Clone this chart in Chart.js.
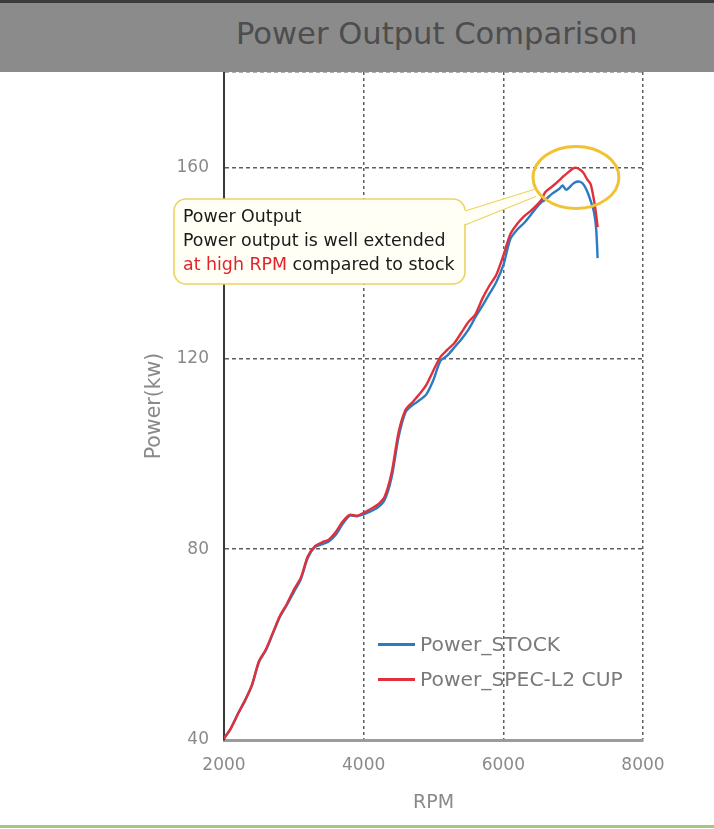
<!DOCTYPE html>
<html>
<head>
<meta charset="utf-8">
<script src="https://cdn.jsdelivr.net/npm/chart.js@4.4.1/dist/chart.umd.min.js"></script>
<style>
html,body{margin:0;padding:0;background:#fff;}
#wrap{position:relative;width:714px;height:829px;overflow:hidden;font-family:"DejaVu Sans",Verdana,sans-serif;}
#c{position:absolute;left:0;top:0;}
#header{position:absolute;left:0;top:0;width:714px;height:72px;background:#8b8b8b;border-top:3px solid #3c3c3c;box-sizing:border-box;}
#title{position:absolute;left:236px;top:13px;font-size:30.6px;color:#4d4d4d;white-space:nowrap;}
#note{position:absolute;left:183px;top:204px;font-size:17.4px;line-height:24px;color:#1a1a1a;white-space:nowrap;}
#note .red{color:#e0242e;}
.leg{position:absolute;left:378px;font-size:20.3px;color:#7a7a7a;white-space:nowrap;line-height:24px;}
.leg .sw{display:inline-block;width:37px;height:3px;vertical-align:middle;margin-right:5px;position:relative;top:-1px;}
#foot{position:absolute;left:0;top:825px;width:714px;height:3px;background:#a9c47f;}
</style>
</head>
<body>
<div id="wrap">
  <canvas id="c" width="714" height="829"></canvas>
  <div id="header"><div id="title">Power Output Comparison</div></div>
  <div id="note">Power Output<br>Power output is well extended<br><span class="red">at high RPM</span> compared to stock</div>
  <div class="leg" style="top:632px"><span class="sw" style="background:#2a7cc2"></span>Power_STOCK</div>
  <div class="leg" style="top:667px"><span class="sw" style="background:#e0303a"></span>Power_SPEC-L2 CUP</div>
  <div id="foot"></div>
</div>
<script>
// ---- data ----
const rpm = [2000,2100,2200,2300,2400,2500,2600,2700,2800,2900,3000,3100,3200,3300,3400,3500,3600,3700,3800,3900,
             4000,4100,4200,4300,4400,4500,4600,4700,4800,4900,5000,5100,5200,5300,5400,5500,5600,5700,5800,5900,
             6000,6100,6200,6300,6400,6500,6550,6600,6700,6800,6850,6900,7000,7050,7100,7150,7200,7250,7300,7330,7350];
const powerStock = [40.3,42.5,45.5,48.2,51.5,56.3,58.8,62.3,65.8,68.3,71.0,73.7,78.2,80.4,81.0,81.6,83.0,85.3,87.0,86.9,
                    87.3,87.9,88.7,90.3,95.0,103.5,108.7,110.2,111.2,112.5,115.5,119.5,120.6,122.3,124.0,126.0,128.6,131.0,133.5,136.0,
                    139.5,145.0,147.0,148.4,150.2,152.0,152.8,153.2,154.5,155.5,156.2,155.3,156.6,157.0,157.0,156.4,155.0,153.0,150.5,147.0,141.0];
const powerSpec = [40.3,42.5,45.5,48.3,51.5,56.5,59.0,62.5,66.0,68.5,71.5,74.0,78.5,80.6,81.4,82.0,83.6,85.8,87.2,87.0,
                   87.6,88.4,89.3,91.0,96.0,104.5,109.2,110.8,112.5,114.5,117.5,120.3,121.8,123.2,125.4,127.6,129.2,132.5,135.2,137.5,
                   141.5,146.0,148.2,149.8,151.0,152.4,153.3,154.8,156.0,157.3,158.0,158.6,159.8,159.9,159.5,158.8,157.5,156.5,153.0,150.0,147.5];
const seriesNames = ['Power_STOCK','Power_SPEC-L2 CUP'];
const xTicks = [2000,4000,6000,8000];
const yTicks = [40,80,120,160];
// highlighted region (data units)
const highlight = {rpm:7040, kw:157.9, rpmHalf:615, kwHalf:6.5};

const FONT = '"DejaVu Sans", Verdana, sans-serif';

const calloutPlugin = {
  id:'callout',
  afterDatasetsDraw(chart){
    const ctx = chart.ctx, xs = chart.scales.x, ys = chart.scales.y;
    const cx = xs.getPixelForValue(highlight.rpm), cy = ys.getPixelForValue(highlight.kw);
    const rx = xs.getPixelForValue(highlight.rpm + highlight.rpmHalf) - cx;
    const ry = cy - ys.getPixelForValue(highlight.kw + highlight.kwHalf);
    ctx.save();
    // box
    const bx=174, by=199, bw=291, bh=85, r=12;
    ctx.beginPath();
    ctx.roundRect(bx,by,bw,bh,r);
    ctx.fillStyle='#fffff6'; ctx.fill();
    ctx.lineWidth=1.6; ctx.strokeStyle='#ecd263'; ctx.stroke();
    // wedge
    const ax = cx - rx*0.98, ay1 = cy + 12, ay2 = cy + 19;
    ctx.beginPath();
    ctx.moveTo(bx+bw-3, by+12);
    ctx.lineTo(ax, ay1);
    ctx.lineTo(ax+2, ay2);
    ctx.lineTo(bx+bw-3, by+26);
    ctx.closePath();
    ctx.fillStyle='#fffff6'; ctx.fill();
    ctx.beginPath();
    ctx.moveTo(bx+bw, by+12); ctx.lineTo(ax, ay1);
    ctx.moveTo(bx+bw, by+26); ctx.lineTo(ax+2, ay2);
    ctx.lineWidth=1.2; ctx.strokeStyle='#ecd263'; ctx.stroke();
    // ellipse
    ctx.beginPath();
    ctx.ellipse(cx, cy, rx, ry, 0, 0, Math.PI*2);
    ctx.lineWidth=3; ctx.strokeStyle='#f1c232'; ctx.stroke();
    ctx.restore();
  }
};

new Chart(document.getElementById('c'), {
  type:'line',
  data:{
    datasets:[
      {label:seriesNames[0], data:rpm.map((r,i)=>({x:r,y:powerStock[i]})), borderColor:'#2a7cc2', borderWidth:2.4, pointRadius:0, tension:0.25, order:2, fill:false},
      {label:seriesNames[1], data:rpm.map((r,i)=>({x:r,y:powerSpec[i]})), borderColor:'#e0303a', borderWidth:2.4, pointRadius:0, tension:0.25, order:1, fill:false}
    ]
  },
  options:{
    responsive:false, animation:false, devicePixelRatio:1,
    layout:{padding:{left:0,right:71,top:72,bottom:0}},
    plugins:{legend:{display:false}, tooltip:{enabled:false}},
    scales:{
      x:{type:'linear', min:xTicks[0], max:xTicks[xTicks.length-1],
        afterBuildTicks:s=>{s.ticks = xTicks.map(v=>({value:v}));},
        afterFit:s=>{s.height=89;},
        ticks:{color:'#8a8a8a', font:{size:17,family:FONT}, padding:15, callback:v=>String(v), maxRotation:0},
        grid:{drawTicks:false, lineWidth:1.5, color:c=>(c.tick && c.tick.value===xTicks[0])?'rgba(0,0,0,0)':'#5e5e5e'},
        border:{display:true, color:'#9b9b9b', width:3, dash:[3,3]},
        title:{display:true, text:'RPM', color:'#8a8a8a', font:{size:19,family:FONT}, padding:{top:0,bottom:15}}
      },
      y:{type:'linear', min:40, max:180,
        afterBuildTicks:s=>{s.ticks = yTicks.concat([180]).map(v=>({value:v}));},
        afterFit:s=>{s.width=224;},
        ticks:{color:'#8a8a8a', font:{size:17,family:FONT}, padding:15, callback:v=>yTicks.includes(v)?String(v):''},
        grid:{drawTicks:false, lineWidth:1.5, color:c=>(c.tick && c.tick.value===yTicks[0])?'rgba(0,0,0,0)':'#5e5e5e'},
        border:{display:true, color:'#3a3a3a', width:2, dash:[4,3]},
        title:{display:true, text:'Power(kw)', color:'#8a8a8a', font:{size:20.5,family:FONT}, padding:{top:142,bottom:0}}
      }
    }
  },
  plugins:[calloutPlugin]
});
</script>
</body>
</html>
